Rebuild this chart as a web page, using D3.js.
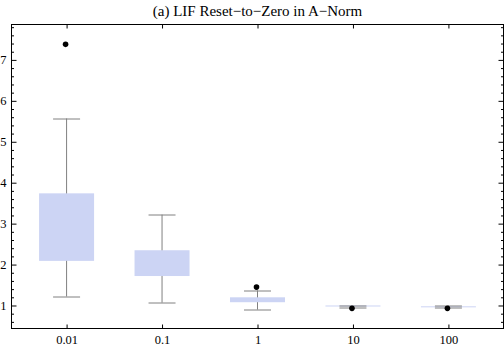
<!DOCTYPE html>
<html>
<head>
<meta charset="utf-8">
<script src="https://cdn.jsdelivr.net/npm/d3@7"></script>
<style>
  body { margin: 0; background: #fff; }
  text { font-family: "Liberation Serif", "DejaVu Serif", serif; }
</style>
</head>
<body>
<div id="chart"></div>
<script>
var categories = ["0.01", "0.1", "1", "10", "100"];
var whiskerLow = [1.22, 1.07, 0.90, 0.95, 0.95];
var boxLow = [2.09, 1.72, 1.08, 0.988, 0.970];
var boxHigh = [3.74, 2.35, 1.20, 1.000, 0.980];
var whiskerHigh = [5.57, 3.22, 1.37, 1.00, 1.00];
var outliers = [[7.38], [], [1.45], [0.93], [0.93]];
var yTickLabels = [1, 2, 3, 4, 5, 6, 7];

var data = categories.map((c, i) => ({
    cat: c,
    wl: whiskerLow[i], q1: boxLow[i], q3: boxHigh[i], wh: whiskerHigh[i],
    out: outliers[i]
}));

var width = 504,
    height = 350,
    margin = {top: 24.5, right: 0.5, bottom: 21.5, left: 11.5},
    innerW = width - margin.left - margin.right,
    innerH = height - margin.top - margin.bottom,
    boxWidth = 55,
    capWidth = 27;

var svg = d3.select("#chart").append("svg")
    .attr("width", width)
    .attr("height", height);

svg.append("text")
    .attr("x", margin.left + innerW / 2)
    .attr("y", 16)
    .attr("text-anchor", "middle")
    .style("font-size", "15px")
    .text("(a) LIF Reset\u2212to\u2212Zero in A\u2212Norm");

var g = svg.append("g")
    .attr("transform", `translate(${margin.left},${margin.top})`);

var xScale = d3.scalePoint().domain(categories).range([0, innerW]).padding(0.577);
var yScale = d3.scaleLinear().domain([0.438, 7.865]).range([innerH, 0]);

// boxes
var box = g.selectAll(".box")
    .data(data)
    .enter().append("g")
    .attr("class", "box")
    .attr("transform", d => `translate(${xScale(d.cat)},0)`);

box.append("line")
    .attr("x1", 0).attr("x2", 0)
    .attr("y1", d => yScale(d.wl))
    .attr("y2", d => yScale(d.wh))
    .attr("stroke", "#808080");

box.append("rect")
    .attr("x", -boxWidth / 2)
    .attr("width", boxWidth)
    .attr("y", d => yScale(d.q3))
    .attr("height", d => Math.max(1, yScale(d.q1) - yScale(d.q3)))
    .style("fill", "#ccd4f4");

box.selectAll(".cap")
    .data(d => [d.wl, d.wh])
    .enter().append("line")
    .attr("class", "cap")
    .attr("x1", -capWidth / 2).attr("x2", capWidth / 2)
    .attr("y1", d => Math.round(yScale(d)) + 0.5)
    .attr("y2", d => Math.round(yScale(d)) + 0.5)
    .attr("stroke", "#808080");

box.selectAll(".outlier")
    .data(d => d.out)
    .enter().append("circle")
    .attr("class", "outlier")
    .attr("cx", -1)
    .attr("cy", d => yScale(d))
    .attr("r", 2.8)
    .style("fill", "#000");

// frame
g.append("rect")
    .attr("width", innerW)
    .attr("height", innerH)
    .style("fill", "none")
    .style("stroke", "#000");

var minorTicks = yScale.ticks(40).filter(v => !yTickLabels.includes(v));

// Y axes
g.append("g")
    .call(d3.axisLeft(yScale).tickValues(yTickLabels).tickSize(-5).tickPadding(5).tickSizeOuter(0))
    .call(a => a.select(".domain").remove())
    .call(a => a.selectAll("text").style("font-size", "12.5px").attr("font-family", null));
g.append("g")
    .call(d3.axisLeft(yScale).tickValues(minorTicks).tickSize(-2.5).tickFormat("").tickSizeOuter(0))
    .call(a => a.select(".domain").remove());
g.append("g")
    .attr("transform", `translate(${innerW},0)`)
    .call(d3.axisRight(yScale).tickValues(yTickLabels).tickSize(-5).tickFormat("").tickSizeOuter(0))
    .call(a => a.select(".domain").remove());
g.append("g")
    .attr("transform", `translate(${innerW},0)`)
    .call(d3.axisRight(yScale).tickValues(minorTicks).tickSize(-2.5).tickFormat("").tickSizeOuter(0))
    .call(a => a.select(".domain").remove());

// X axes
g.append("g")
    .attr("transform", `translate(0,${innerH})`)
    .call(d3.axisBottom(xScale).tickSize(-4).tickPadding(7).tickSizeOuter(0))
    .call(a => a.select(".domain").remove())
    .call(a => a.selectAll("text").style("font-size", "12.5px").attr("font-family", null));
g.append("g")
    .call(d3.axisTop(xScale).tickSize(-4).tickFormat("").tickSizeOuter(0))
    .call(a => a.select(".domain").remove());
</script>
</body>
</html>
